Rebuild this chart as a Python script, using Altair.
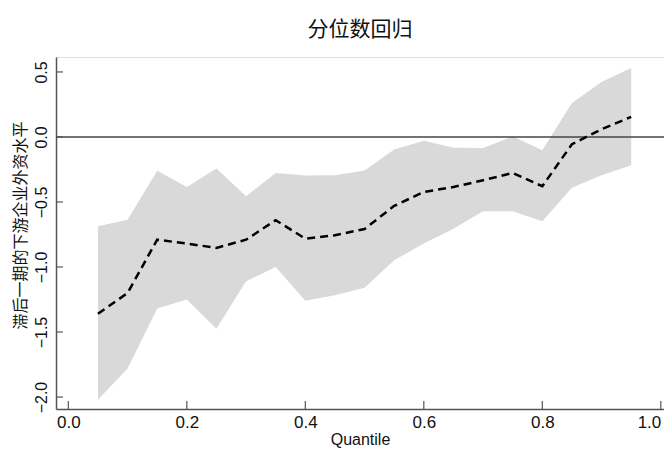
import altair as alt
import pandas as pd

quantile = [0.05, 0.10, 0.15, 0.20, 0.25, 0.30, 0.35, 0.40, 0.45, 0.50,
            0.55, 0.60, 0.65, 0.70, 0.75, 0.80, 0.85, 0.90, 0.95]
coef = [-1.36, -1.20, -0.79, -0.82, -0.853, -0.79, -0.64, -0.782, -0.756, -0.708,
        -0.53, -0.423, -0.385, -0.333, -0.277, -0.379, -0.056, 0.059, 0.154]
upper = [-0.687, -0.636, -0.26, -0.385, -0.243, -0.456, -0.277, -0.297, -0.295, -0.258,
         -0.097, -0.03, -0.082, -0.085, 0.005, -0.102, 0.262, 0.423, 0.53]
lower = [-2.02, -1.78, -1.32, -1.25, -1.474, -1.11, -1.0, -1.26, -1.218, -1.16,
         -0.948, -0.82, -0.705, -0.572, -0.572, -0.648, -0.39, -0.295, -0.218]

x_ticks = [0.0, 0.2, 0.4, 0.6, 0.8, 1.0]
y_ticks = [-2.0, -1.5, -1.0, -0.5, 0.0, 0.5]

W, H = 608, 352
X_DOM = [-0.0208, 1.0054]
Y_DOM = [-2.092, 0.615]

df = pd.DataFrame({"q": quantile, "coef": coef, "upper": upper, "lower": lower})
xt = pd.DataFrame({"t": x_ticks})
yt = pd.DataFrame({"t": y_ticks})

xs = alt.Scale(domain=X_DOM, nice=False, zero=False)
ys = alt.Scale(domain=Y_DOM, nice=False, zero=False)

axis_common = dict(domainColor="#555555", domainWidth=1.5, ticks=False, grid=False,
                   labelFont="Liberation Sans", labelColor="#111111")

x_enc = alt.X("q:Q", scale=xs, title="Quantile",
              axis=alt.Axis(values=x_ticks, format=".1f", labelFontSize=17,
                            labelPadding=5, labelFlush=5, titleFont="Liberation Sans",
                            titleFontSize=16, titleFontWeight="normal",
                            titlePadding=1, titleColor="#111111", **axis_common))
y_enc = alt.Y("lower:Q", scale=ys, title="滞后一期的下游企业外资水平",
              axis=alt.Axis(values=y_ticks, format=".1f", labelFontSize=16,
                            labelAngle=-90, labelAlign="center", labelBaseline="bottom",
                            labelPadding=7, titleFont="Noto Sans CJK SC",
                            titleFontSize=16, titleFontWeight="normal", titleY=168,
                            titlePadding=5, titleColor="#111111", **axis_common))

band = alt.Chart(df).mark_area(color="#d9d9d9", opacity=1).encode(
    x=x_enc, y=y_enc, y2="upper:Q")

zero = alt.Chart(pd.DataFrame({"z": [0.0]})).mark_rule(color="#444444", strokeWidth=1.5).encode(
    y=alt.Y("z:Q", scale=ys), x=alt.value(0), x2=alt.value(W))

line = alt.Chart(df).mark_line(color="black", strokeWidth=2.5, strokeDash=[8, 5]).encode(
    x=alt.X("q:Q", scale=xs), y=alt.Y("coef:Q", scale=ys))

xtick = alt.Chart(xt).mark_rule(color="#555555", strokeWidth=1.2).encode(
    x=alt.X("t:Q", scale=xs), y=alt.value(H), y2=alt.value(H - 8))
ytick = alt.Chart(yt).mark_rule(color="#555555", strokeWidth=1.2).encode(
    y=alt.Y("t:Q", scale=ys), x=alt.value(0), x2=alt.value(7))

chart = alt.layer(band, zero, line, xtick, ytick).properties(
    width=W, height=H,
    title=alt.TitleParams("分位数回归", font="Noto Sans CJK SC", fontSize=21,
                          fontWeight="normal", color="#111111", anchor="middle", offset=17),
    autosize=alt.AutoSizeParams(type="none"),
    padding={"left": 48, "top": 49, "right": 0, "bottom": 39},
).configure_view(stroke=None).configure(background="white")

chart.save("out.html", embed_options={"renderer": "svg", "actions": False})
